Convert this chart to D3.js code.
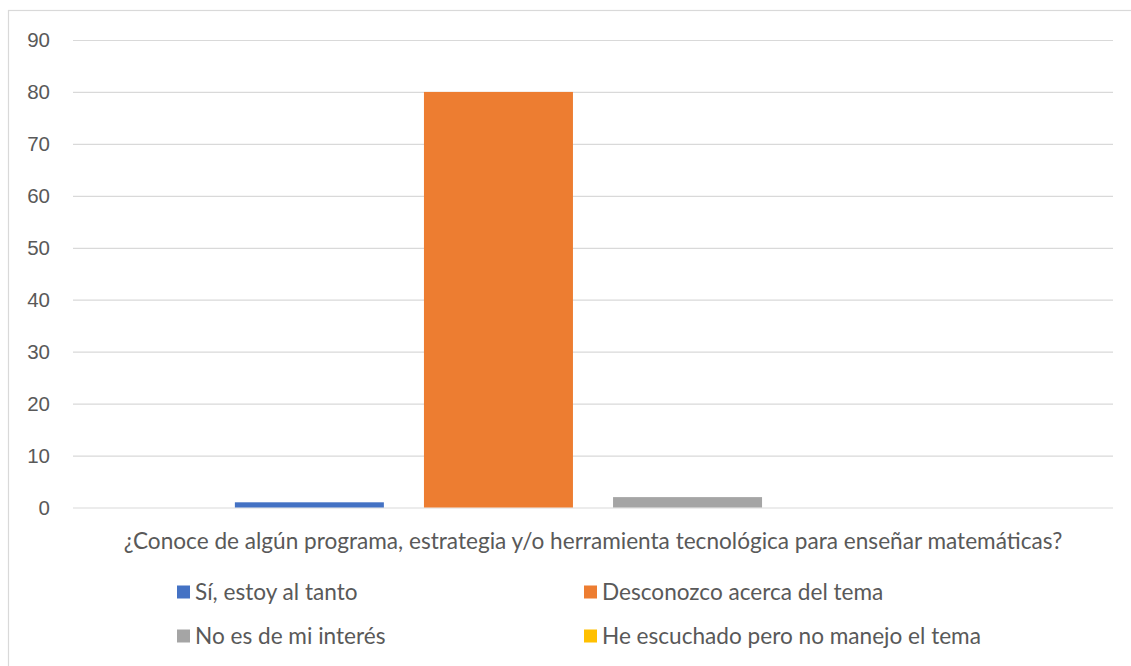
<!DOCTYPE html>
<html lang="es">
<head>
<meta charset="UTF-8">
<title>¿Conoce de algún programa?</title>
<script src="https://d3js.org/d3.v7.min.js"></script>
<style>
    body { margin: 0; background: #fff; font-family: Lato, "Open Sans", sans-serif; }
    .tick text { fill: #595959; font-size: 20.5px; }
    .legend text { fill: #595959; font-size: 22.6px; }
</style>
</head>
<body>
<svg width="1131" height="666"></svg>
<script>
    // data
    const category = "¿Conoce de algún programa, estrategia y/o herramienta tecnológica para enseñar matemáticas?";
    const seriesNames = ["Sí, estoy al tanto", "Desconozco acerca del tema", "No es de mi interés", "He escuchado pero no manejo el tema"];
    const seriesValues = [1, 80, 2, 0];
    const seriesColors = ["#4472c4", "#ed7d31", "#a5a5a5", "#ffc000"];
    const yTicks = [0, 10, 20, 30, 40, 50, 60, 70, 80, 90];

    const width = 1131, height = 666;
    const margin = { top: 40, right: 18, bottom: 158.5, left: 73 };
    const svg = d3.select("svg");

    // chart border
    svg.append("rect")
        .attr("x", 8.5).attr("y", 10.5)
        .attr("width", width + 20).attr("height", height + 20)
        .attr("fill", "none").attr("stroke", "#d9d9d9").attr("stroke-width", 1.2);

    const x0 = d3.scaleBand()
        .domain([category])
        .range([margin.left, width - margin.right])
        .paddingInner(0).paddingOuter(0.226);

    const x1 = d3.scaleBand()
        .domain(seriesNames)
        .range([0, x0.bandwidth()])
        .paddingInner(0.212).paddingOuter(0);

    const y = d3.scaleLinear()
        .domain([0, 90])
        .range([height - margin.bottom, margin.top]);

    // gridlines + labels
    const yAxis = svg.append("g")
        .attr("transform", `translate(${margin.left},0)`)
        .call(d3.axisLeft(y).tickValues(yTicks).tickSize(-(width - margin.left - margin.right)).tickPadding(23));
    yAxis.select(".domain").remove();
    yAxis.selectAll(".tick line").attr("stroke", "#d9d9d9").attr("stroke-width", 1.2);

    // bars
    svg.append("g").selectAll("rect")
        .data(seriesNames.map((n, i) => ({ name: n, value: seriesValues[i], color: seriesColors[i] })))
        .join("rect")
        .attr("x", d => x0(category) + x1(d.name))
        .attr("y", d => y(d.value))
        .attr("width", x1.bandwidth())
        .attr("height", d => y(0) - y(d.value))
        .attr("fill", d => d.color);

    // category label
    svg.append("text")
        .attr("x", (margin.left + width - margin.right) / 2)
        .attr("y", 541)
        .attr("dy", "0.35em")
        .attr("text-anchor", "middle")
        .attr("fill", "#595959")
        .style("font-size", "22.6px")
        .text(category);

    // legend
    const legend = svg.append("g").attr("class", "legend");
    const legX = [177, 584], legY = [592, 636];
    seriesNames.forEach((n, i) => {
        const gx = legX[i % 2], gy = legY[Math.floor(i / 2)];
        legend.append("rect")
            .attr("x", gx).attr("y", gy - 6.5)
            .attr("width", 13).attr("height", 13)
            .attr("fill", seriesColors[i]);
        legend.append("text")
            .attr("x", gx + 18).attr("y", gy)
            .attr("dy", "0.35em")
            .text(n);
    });
</script>
</body>
</html>
